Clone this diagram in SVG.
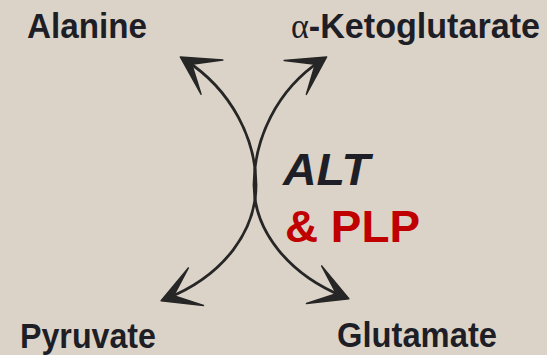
<svg xmlns="http://www.w3.org/2000/svg" width="547" height="355" viewBox="0 0 547 355">
  <style>
    .lbl { font-family: "Liberation Sans", Arial, sans-serif; font-weight: bold; font-size: 35px; fill: #1e1e26; }
    .enz { font-family: "Liberation Sans", Arial, sans-serif; font-weight: bold; font-size: 44px; }
    .conn { fill: none; stroke: #262626; stroke-width: 2.8; }
  </style>
  <defs>
    <marker id="ah" markerUnits="userSpaceOnUse" markerWidth="60" markerHeight="60" refX="-4" refY="0" viewBox="-30 -20 40 40" orient="auto-start-reverse" overflow="visible">
      <path d="M0,0 L-25,-13.5 L-9,0 L-25,13.5 Z" fill="#262626" stroke="#262626" stroke-width="1" stroke-linejoin="round"/>
    </marker>
  </defs>
  <rect width="547" height="355" fill="#dcd3c8"/>
  <g id="connectors">
    <path class="conn" d="M185.4,60.2 C232,90 256,140 256,185 C256,230 225,275 166.7,298.5" marker-start="url(#ah)" marker-end="url(#ah)"/>
    <path class="conn" d="M321.6,60.2 C276,90 254,140 254,185 C254,232 290,275 343.3,296.5" marker-start="url(#ah)" marker-end="url(#ah)"/>
  </g>
  <g id="alanine"><text class="lbl" x="27" y="38" textLength="120" lengthAdjust="spacingAndGlyphs">Alanine</text></g>
  <g id="ketoglutarate"><text class="lbl" x="291" y="38" textLength="249" lengthAdjust="spacingAndGlyphs"><tspan font-family="'Liberation Serif', serif" font-weight="normal">α</tspan>-Ketoglutarate</text></g>
  <g id="pyruvate"><text class="lbl" x="20" y="348" textLength="136" lengthAdjust="spacingAndGlyphs">Pyruvate</text></g>
  <g id="glutamate"><text class="lbl" x="337" y="347" textLength="160" lengthAdjust="spacingAndGlyphs">Glutamate</text></g>
  <g id="enzyme">
    <text class="enz" x="283" y="185" font-style="italic" fill="#1e1e26" textLength="87" lengthAdjust="spacingAndGlyphs">ALT</text>
    <text class="enz" x="285" y="242" fill="#c00000" textLength="135" lengthAdjust="spacingAndGlyphs">&amp; PLP</text>
  </g>
</svg>
